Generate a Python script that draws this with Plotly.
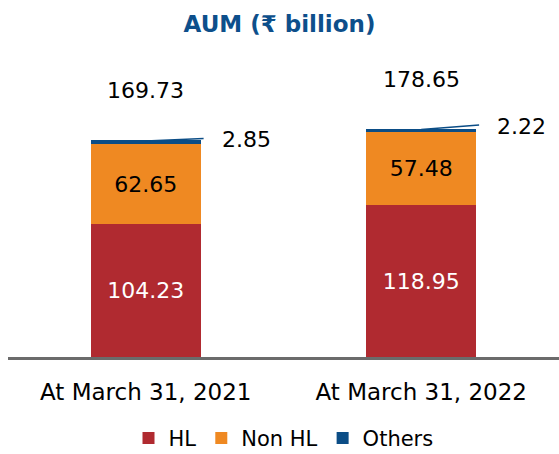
import plotly.graph_objects as go

categories = ["At March 31, 2021", "At March 31, 2022"]
hl = [104.23, 118.95]
non_hl = [62.65, 57.48]
others = [2.85, 2.22]
totals = [169.73, 178.65]

C_HL = "#b02a30"
C_NON = "#ef8922"
C_OTH = "#0b4d86"
FONT = "DejaVu Sans, Arial, sans-serif"

fig = go.Figure()
fig.add_trace(go.Bar(x=categories, y=hl, name="HL", marker=dict(color=C_HL, line=dict(width=0)),
                     text=[f"{v:.2f}" for v in hl], textposition="inside", insidetextanchor="middle",
                     textfont=dict(color="white", size=22, family=FONT)))
fig.add_trace(go.Bar(x=categories, y=non_hl, name="Non HL", marker=dict(color=C_NON, line=dict(width=0)),
                     text=[f"{v:.2f}" for v in non_hl], textposition="inside", insidetextanchor="middle",
                     textfont=dict(color="black", size=22, family=FONT)))
fig.add_trace(go.Bar(x=categories, y=others, name="Others", marker=dict(color=C_OTH, line=dict(width=0)),
                     textposition="none"))

rise = [1.5, 3.2]
for i, cat in enumerate(categories):
    fig.add_annotation(x=cat, y=totals[i], text=f"{totals[i]:.2f}", showarrow=False,
                       yshift=50, font=dict(size=22, color="black", family=FONT))
    fig.add_shape(type="line", xref="x", yref="y", x0=i, x1=i + 0.21,
                  y0=totals[i] - 0.4, y1=totals[i] + rise[i], line=dict(color=C_OTH, width=1.5))
    fig.add_annotation(x=i + 0.365, y=totals[i] + rise[i] - 1.0, xref="x", yref="y", text=f"{others[i]:.2f}",
                       showarrow=False, font=dict(size=22, color="black", family=FONT))

fig.update_layout(
    barmode="stack",
    bargap=0.6,
    width=559, height=454,
    margin=dict(l=8, r=0, t=60, b=97, autoexpand=False),
    plot_bgcolor="white", paper_bgcolor="white",
    title=dict(text="<b>AUM (₹ billion)</b>", x=0.5, xanchor="center", y=0.948, yanchor="middle",
               font=dict(size=23, color="#0d4f8b", family=FONT)),
    font=dict(family=FONT, size=21, color="black"),
    legend=dict(orientation="h", x=0.5, xanchor="center", y=-0.205, yanchor="top",
                font=dict(size=21, family=FONT), traceorder="normal", itemwidth=30),
    showlegend=True,
)
fig.update_xaxes(showline=True, linecolor="#6b6b6b", linewidth=3, ticks="", ticklabelstandoff=12,
                 automargin=False, tickfont=dict(size=23, family=FONT))
fig.update_yaxes(visible=False, range=[0, 232.8], showgrid=False, automargin=False)

fig.write_html("out.html", config={"displayModeBar": False},
               post_script="document.body.style.margin='0';document.body.style.padding='0';")
